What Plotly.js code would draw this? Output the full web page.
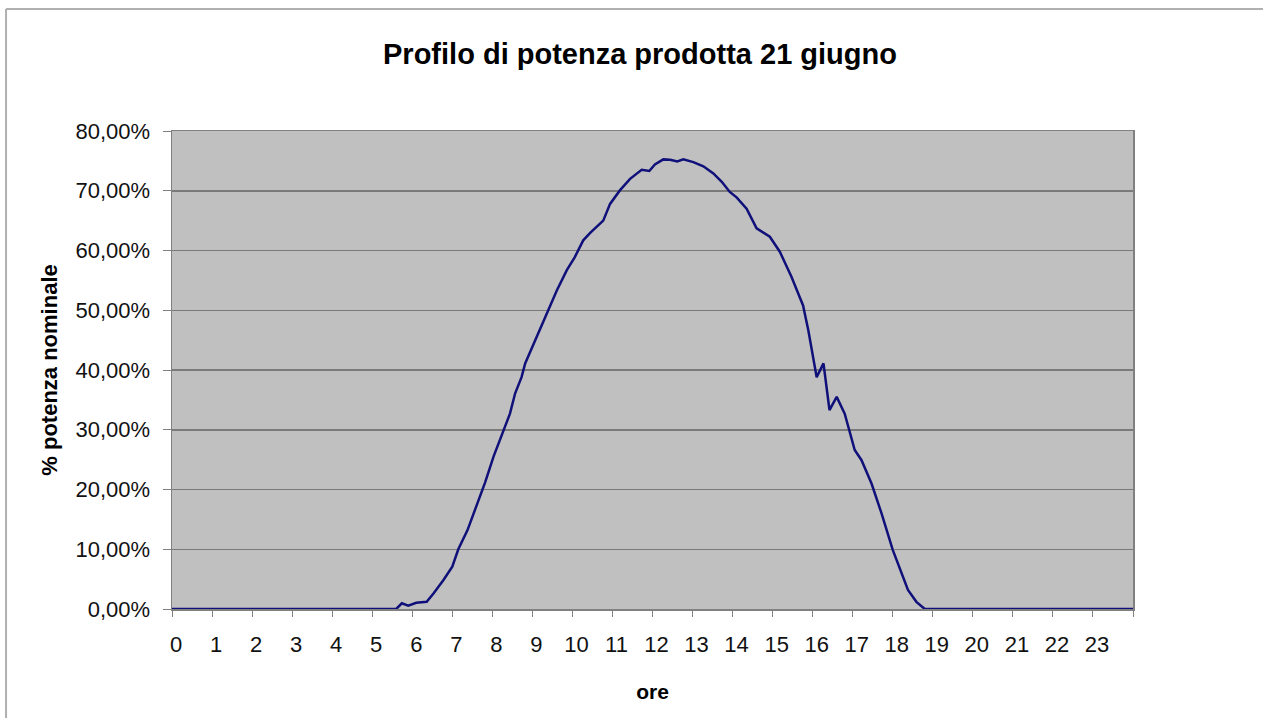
<!DOCTYPE html>
<html>
<head>
<meta charset="utf-8">
<script src="https://cdn.plot.ly/plotly-3.0.1.min.js"></script>
<style>
  html, body { margin: 0; padding: 0; background: #ffffff; }
  #chart { width: 1263px; height: 718px; }
</style>
</head>
<body>
<div id="chart"></div>
<script>
// Time of day (hours) of each reading
const ore = [0, 5.6, 5.74, 5.9, 6.1, 6.36, 6.53, 6.78, 7.0, 7.15, 7.38, 7.61, 7.82, 8.03, 8.28, 8.44, 8.57, 8.73, 8.82,
  9.11, 9.36, 9.61, 9.86, 10.06, 10.27, 10.45, 10.69, 10.77, 10.94, 11.19, 11.44, 11.73, 11.92, 12.06, 12.27, 12.44,
  12.62, 12.77, 13.02, 13.27, 13.52, 13.73, 13.93, 14.1, 14.35, 14.51, 14.6, 14.93, 15.18, 15.47, 15.76, 15.89,
  16.1, 16.27, 16.42, 16.6, 16.8, 17.05, 17.22, 17.47, 17.72, 18.0, 18.2, 18.38, 18.59, 18.8, 24];
// % potenza nominale
const potenza = [0, 0, 0.95, 0.55, 1.05, 1.2, 2.6, 4.85, 7.1, 10.0, 13.2, 17.5, 21.2, 25.5, 30.0, 32.7, 36.1, 38.8, 41.1,
  45.5, 49.4, 53.3, 56.7, 58.9, 61.7, 63.0, 64.5, 65.0, 67.8, 70.1, 72.0, 73.5, 73.3, 74.4, 75.25, 75.2,
  74.9, 75.25, 74.8, 74.1, 72.9, 71.5, 69.8, 68.9, 67.0, 65.0, 63.7, 62.3, 59.8, 55.6, 50.8, 46.7,
  38.8, 41.1, 33.3, 35.5, 32.7, 26.6, 24.9, 21.0, 16.0, 9.9, 6.5, 3.2, 1.2, 0, 0];
const xTickVals = [0,1,2,3,4,5,6,7,8,9,10,11,12,13,14,15,16,17,18,19,20,21,22,23,24];
const xTickText = ['0','1','2','3','4','5','6','7','8','9','10','11','12','13','14','15','16','17','18','19','20','21','22','23',''];
const yTickVals = [0,10,20,30,40,50,60,70,80];
const yTickText = ['0,00%','10,00%','20,00%','30,00%','40,00%','50,00%','60,00%','70,00%','80,00%'];

const FONT = 'Liberation Sans, Arial, sans-serif';

const trace = {
  x: ore, y: potenza, type: 'scatter', mode: 'lines',
  line: { color: '#10107a', width: 2.5 },
  hoverinfo: 'skip'
};

const layout = {
  width: 1263, height: 718,
  margin: { l: 172, r: 130, t: 131, b: 109 },
  paper_bgcolor: '#ffffff',
  plot_bgcolor: '#c0c0c0',
  showlegend: false,
  font: { family: FONT, color: '#111111', size: 21 },
  title: {
    text: '<b>Profilo di potenza prodotta 21 giugno</b>',
    font: { family: FONT, size: 29, color: '#000000' },
    x: 640 / 1263, xanchor: 'center', xref: 'container',
    y: 1 - 54 / 718, yanchor: 'middle', yref: 'container'
  },
  xaxis: {
    range: [0, 24],
    tickmode: 'array', tickvals: xTickVals, ticktext: xTickText,
    ticks: 'outside', ticklen: 6, tickcolor: '#808080', tickwidth: 1,
    showgrid: false, zeroline: false,
    showline: true, linecolor: '#808080', linewidth: 1.5, mirror: true,
    tickfont: { family: FONT, size: 22, color: '#111111' },
    ticklabelstandoff: 9, ticklabelshift: 4,
    title: { text: '<b>ore</b>', font: { family: FONT, size: 21, color: '#000000' }, standoff: 28 },
    fixedrange: true
  },
  yaxis: {
    range: [0, 80],
    tickmode: 'array', tickvals: yTickVals, ticktext: yTickText,
    ticks: 'outside', ticklen: 8, tickcolor: '#808080', tickwidth: 1,
    showgrid: true, gridcolor: '#7a7a7a', gridwidth: 1.5,
    zeroline: false,
    showline: true, linecolor: '#808080', linewidth: 1.5, mirror: true,
    tickfont: { family: FONT, size: 22, color: '#111111' },
    ticklabelstandoff: 8,
    title: { text: '<b>% potenza nominale</b>', font: { family: FONT, size: 22, color: '#000000' }, standoff: 12 },
    fixedrange: true
  },
  shapes: [
    { type: 'line', xref: 'paper', yref: 'paper', x0: -0.1727, x1: -0.1727, y0: -0.3, y1: 1.255,
      line: { color: '#b0b0b0', width: 2 } },
    { type: 'line', xref: 'paper', yref: 'paper', x0: -0.1727, x1: 1.2, y0: 1.255, y1: 1.255,
      line: { color: '#b0b0b0', width: 2 } }
  ]
};

Plotly.newPlot('chart', [trace], layout, { displayModeBar: false, staticPlot: true });
</script>
</body>
</html>
